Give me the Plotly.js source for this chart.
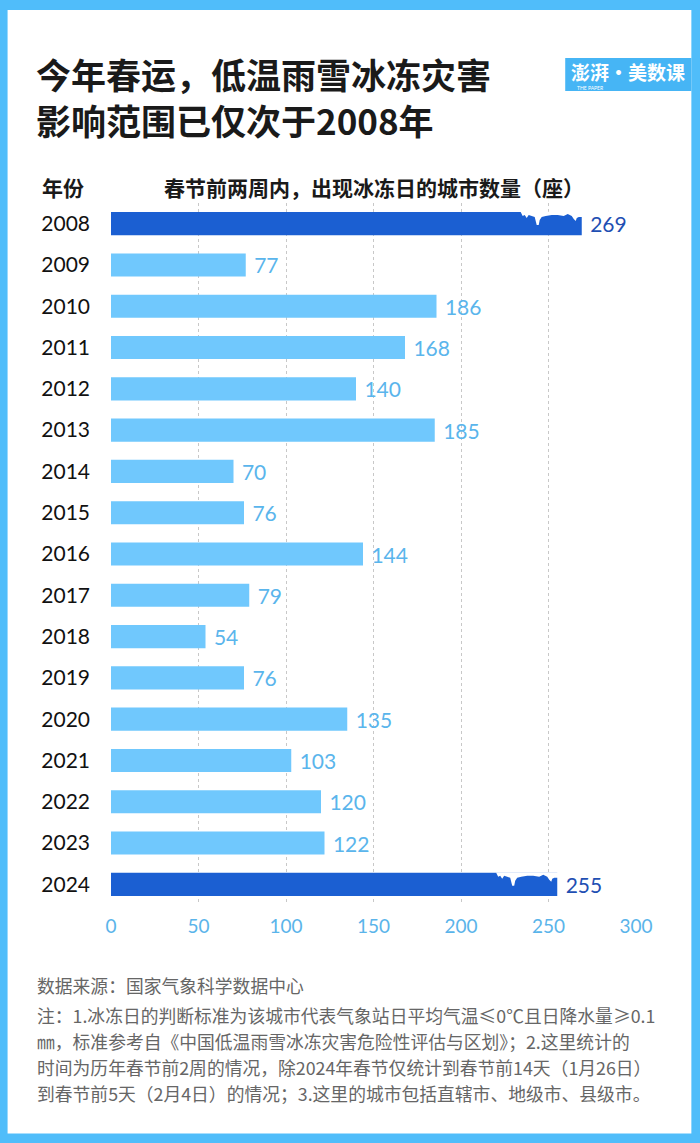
<!DOCTYPE html>
<html>
<head>
<meta charset="utf-8">
<script src="https://cdn.plot.ly/plotly-3.0.1.min.js"></script>
<style>
html,body{margin:0;padding:0;background:#50bdfa;}
#chart{width:700px;height:1143px;}
</style>
</head>
<body>
<div id="chart"></div>
<script>
// ---- data ----
const years = [2008, 2009, 2010, 2011, 2012, 2013, 2014, 2015, 2016, 2017, 2018, 2019, 2020, 2021, 2022, 2023, 2024];
const cities = [269, 77, 186, 168, 140, 185, 70, 76, 144, 79, 54, 76, 135, 103, 120, 122, 255];
const highlightYears = [2008, 2024];
const xTicks = [0, 50, 100, 150, 200, 250, 300];

const titleText = "今年春运，低温雨雪冰冻灾害<br>影响范围已仅次于2008年";
const yearHeader = "年份";
const valueHeader = "春节前两周内，出现冰冻日的城市数量（座）";
const sourceLine = "数据来源：国家气象科学数据中心";
const noteLines = [
  "注：1.冰冻日的判断标准为该城市代表气象站日平均气温≤0℃且日降水量≥0.1",
  "㎜，标准参考自《中国低温雨雪冰冻灾害危险性评估与区划》；2.这里统计的",
  "时间为历年春节前2周的情况，除2024年春节仅统计到春节前14天（1月26日）",
  "到春节前5天（2月4日）的情况；3.这里的城市包括直辖市、地级市、县级市。"
];
const logoText = "澎湃·美数课";
const logoSub = "THE PAPER";

// ---- style / layout constants ----
const W = 700, H = 1143;
const ML = 111.3, MR = 64.3, MT = 202.9, MB = 238.4;
const PW = W - ML - MR, PH = H - MT - MB;
const px = v => (v - ML) / PW;
const py = v => (H - MB - v) / PH;
const LIGHT = "#70c8fd", DARK = "#1b5fd2";
const LIGHT_TXT = "#5ab5ec", DARK_TXT = "#1f4fb3";
const BAR_W = 0.56;
const CJK = "'Noto Sans CJK SC', 'Noto Sans', sans-serif";
const NUM = "Lato, 'Noto Sans', sans-serif";

const isHi = years.map(y => highlightYears.includes(y));

const trace = {
  type: "bar",
  orientation: "h",
  x: cities,
  y: years,
  width: BAR_W,
  marker: {color: isHi.map(h => h ? DARK : LIGHT), line: {width: 0}},
  text: cities.map(v => "\u00a0" + v),
  textposition: "outside",
  constraintext: "none",
  cliponaxis: false,
  textfont: {family: NUM, size: 21, color: isHi.map(h => h ? DARK_TXT : LIGHT_TXT)},
  hoverinfo: "x+y"
};

// melting-ice edge on highlighted bars (offsets in pixels relative to bar end / bar top)
const iceProfile = [[-61,0],[-59,4],[-57,3],[-55,6],[-53,3],[-50,4],[-47,5],[-46,9],[-45,13],[-43,13],[-42,8],[-40,5],[-36,4],[-30,3],[-24,3],[-18,4],[-14,2],[-10,4],[-8,7],[-6,9],[-5,6],[-3,5],[0,5],[3,5]];
const pxPerX = PW / 300;
const pxPerY = PH / 17;
const shapes = [];
// white card
shapes.push({type:"rect", xref:"paper", yref:"paper", x0:px(8), x1:px(691), y0:py(1133), y1:py(10),
  fillcolor:"#ffffff", line:{width:0}, layer:"below"});
// logo box
shapes.push({type:"rect", xref:"paper", yref:"paper", x0:px(565), x1:px(691), y0:py(91), y1:py(58),
  fillcolor:"#46b5f5", line:{width:0}, layer:"above"});
years.forEach((yr, i) => {
  if (!isHi[i]) return;
  const v = cities[i];
  const top = yr - BAR_W / 2;
  let d = "";
  iceProfile.forEach(([dx, dep], k) => {
    const X = v + dx / pxPerX, Y = top + dep / pxPerY;
    d += (k === 0 ? "M" : " L") + X.toFixed(3) + "," + Y.toFixed(4);
  });
  d += " L" + (v + 3 / pxPerX).toFixed(3) + "," + (top - 0.01).toFixed(4);
  d += " L" + (v - 61 / pxPerX).toFixed(3) + "," + (top - 0.01).toFixed(4) + " Z";
  shapes.push({type:"path", xref:"x", yref:"y", path:d, fillcolor:"#ffffff", line:{width:0}, layer:"above"});
});

const annotations = [];
annotations.push({xref:"paper", yref:"paper", x:px(40), y:py(187), xanchor:"left", yanchor:"middle",
  text:yearHeader, showarrow:false, font:{family:CJK, size:21, color:"#1a1a1a", weight:700}});
annotations.push({xref:"paper", yref:"paper", x:px(162), y:py(187), xanchor:"left", yanchor:"middle",
  text:valueHeader, showarrow:false, font:{family:CJK, size:21, color:"#1a1a1a", weight:700}});
annotations.push({xref:"paper", yref:"paper", x:px(35), y:py(985), xanchor:"left", yanchor:"middle",
  text:sourceLine, showarrow:false, font:{family:CJK, size:17.8, color:"#666666"}});
const noteY = [1015, 1041, 1067, 1093];
noteLines.forEach((t, i) => {
  annotations.push({xref:"paper", yref:"paper", x:px(35), y:py(noteY[i]), xanchor:"left", yanchor:"middle",
    text:t, showarrow:false, font:{family:CJK, size:17.8, color:"#666666"}});
});
annotations.push({xref:"paper", yref:"paper", x:px(628), y:py(71), xanchor:"center", yanchor:"middle",
  text:logoText, showarrow:false, font:{family:CJK, size:19, color:"#ffffff", weight:700}});
annotations.push({xref:"paper", yref:"paper", x:px(590), y:py(87.5), xanchor:"center", yanchor:"middle",
  text:logoSub, showarrow:false, font:{family:NUM, size:5, color:"#ffffff"}});

const layout = {
  width: W, height: H,
  margin: {l: ML, r: MR, t: MT, b: MB, pad: 0},
  paper_bgcolor: "#50bdfa",
  plot_bgcolor: "#ffffff",
  showlegend: false,
  title: {
    text: titleText,
    xref: "container", yref: "container",
    x: 36 / W, xanchor: "left",
    y: 1 - 89 / H, yanchor: "middle",
    font: {family: CJK, size: 35, color: "#1a1a1a", weight: 700}
  },
  xaxis: {
    range: [0, 300],
    tickvals: xTicks,
    ticktext: xTicks.map(String),
    showgrid: true, gridcolor: "#c8c8c8", griddash: "dot", gridwidth: 1,
    zeroline: false, showline: false, ticks: "",
    ticklabelstandoff: 8,
    tickfont: {family: NUM, size: 19, color: "#5ab4ea"},
    fixedrange: true
  },
  yaxis: {
    range: [2024.5, 2007.5],
    tickvals: years,
    ticktext: years.map(String),
    showgrid: false, zeroline: false, showline: false, ticks: "",
    ticklabelstandoff: 20,
    tickfont: {family: NUM, size: 21, color: "#111111"},
    fixedrange: true
  },
  shapes: shapes,
  annotations: annotations,
  bargap: 0.4
};

Plotly.newPlot("chart", [trace], layout, {displayModeBar: false, staticPlot: true});
</script>
</body>
</html>
